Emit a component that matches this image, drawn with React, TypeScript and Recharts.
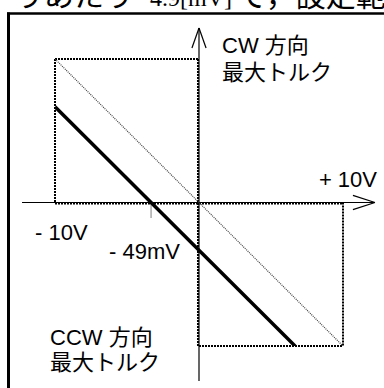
import React from 'react';
import { ComposedChart, Line, XAxis, YAxis, ReferenceLine } from 'recharts';

// command voltage (V) range and torque (normalized to ±10)
const voltageRange = [-10, 10];
const torqueRange = [-10, 10];
// ideal characteristic
const idealLine = [
  { v: -10, t: 10 },
  { v: 10, t: -10 },
];
// actual characteristic (offset, crosses zero at "-49mV" in the schematic)
const actualLine = [
  { v: -10, t: 6.67 },
  { v: 6.67, t: -10 },
];
const zeroCross = -3.33;
const labels = {
  cw: ['CW 方向', '最大トルク'],
  ccw: ['CCW 方向', '最大トルク'],
  plus: '+ 10V',
  minus: '- 10V',
  offset: '- 49mV',
};
const headerText = ['りあたり', '4.9[mV]', 'で，設定範囲'];

const W = 384;
const H = 388;
const font = '"Liberation Sans", Arial, "Noto Sans CJK JP", sans-serif';
const jpFont = '"Noto Sans CJK JP", "Liberation Sans", sans-serif';

const dotted = { stroke: '#000', strokeWidth: 2, strokeDasharray: '2 1' };

export default function App() {
  return (
    <div style={{ position: 'fixed', left: 0, top: 0, width: W, height: H, overflow: 'hidden', background: '#fff' }}>
      <ComposedChart width={W} height={H} margin={{ top: 59, right: 41, bottom: 42, left: 55 }}>
        <XAxis type="number" dataKey="v" domain={voltageRange} allowDataOverflow hide />
        <YAxis type="number" dataKey="t" domain={torqueRange} allowDataOverflow hide />
        {/* dotted limit rectangles */}
        <ReferenceLine segment={[{ x: -10, y: 10 }, { x: 0, y: 10 }]} ifOverflow="visible" {...dotted} />
        <ReferenceLine segment={[{ x: -10, y: 10 }, { x: -10, y: 0 }]} ifOverflow="visible" {...dotted} />
        <ReferenceLine segment={[{ x: -10, y: -0.07 }, { x: 10, y: -0.07 }]} ifOverflow="visible" {...dotted} />
        <ReferenceLine segment={[{ x: -0.07, y: 10 }, { x: -0.07, y: -10 }]} ifOverflow="visible" {...dotted} />
        <ReferenceLine segment={[{ x: 10, y: 0 }, { x: 10, y: -10 }]} ifOverflow="visible" {...dotted} />
        <ReferenceLine segment={[{ x: 0, y: -10 }, { x: 10, y: -10 }]} ifOverflow="visible" {...dotted} />
        <ReferenceLine segment={[{ x: zeroCross, y: 0 }, { x: zeroCross, y: -1.05 }]} ifOverflow="visible" stroke="#000" strokeWidth={1} strokeDasharray="1 1" />
        {/* axes */}
        <ReferenceLine segment={[{ x: -12.29, y: 0 }, { x: 12.22, y: 0 }]} ifOverflow="visible" stroke="#000" strokeWidth={1.2} />
        <ReferenceLine segment={[{ x: 0, y: 12.16 }, { x: 0, y: -12.44 }]} ifOverflow="visible" stroke="#000" strokeWidth={1.2} />
        <ReferenceLine segment={[{ x: 0, y: 12.16 }, { x: -0.49, y: 10.77 }]} ifOverflow="visible" stroke="#000" strokeWidth={1.2} />
        <ReferenceLine segment={[{ x: 0, y: 12.16 }, { x: 0.49, y: 10.77 }]} ifOverflow="visible" stroke="#000" strokeWidth={1.2} />
        <ReferenceLine segment={[{ x: 12.22, y: 0 }, { x: 10.69, y: 0.5 }]} ifOverflow="visible" stroke="#000" strokeWidth={1.2} />
        <ReferenceLine segment={[{ x: 12.22, y: 0 }, { x: 10.69, y: -0.5 }]} ifOverflow="visible" stroke="#000" strokeWidth={1.2} />
        <Line data={idealLine} dataKey="t" stroke="#444" strokeWidth={1.2} strokeDasharray="1 1" dot={false} isAnimationActive={false} />
        <Line data={actualLine} dataKey="t" stroke="#000" strokeWidth={3.5} dot={false} isAnimationActive={false} />
      </ComposedChart>
      <svg width={W} height={H} style={{ position: 'absolute', left: 0, top: 0, pointerEvents: 'none' }}>
        <line x1={8.5} y1={12.5} x2={8.5} y2={H + 2} stroke="#000" strokeWidth={3} />
        <line x1={7} y1={13.5} x2={W + 2} y2={13.5} stroke="#000" strokeWidth={2.5} />
        <text y={6} fontSize={30} fill="#000">
          <tspan x={14} fontFamily={jpFont}>{headerText[0]}</tspan>
          <tspan x={150} fontFamily='"Liberation Serif", "Times New Roman", serif' fontSize={24}>{headerText[1]}</tspan>
          <tspan x={237} fontFamily={jpFont}>{headerText[2]}</tspan>
        </text>
        <g fontFamily={font} fontSize={22} fill="#000">
          <text x={222} y={53}>{labels.cw[0]}</text>
          <text x={222} y={80}>{labels.cw[1]}</text>
          <text x={377} y={187} textAnchor="end">{labels.plus}</text>
          <text x={35} y={240}>{labels.minus}</text>
          <text x={109} y={259}>{labels.offset}</text>
          <text x={50} y={345}>{labels.ccw[0]}</text>
          <text x={50} y={370}>{labels.ccw[1]}</text>
        </g>
      </svg>
    </div>
  );
}
